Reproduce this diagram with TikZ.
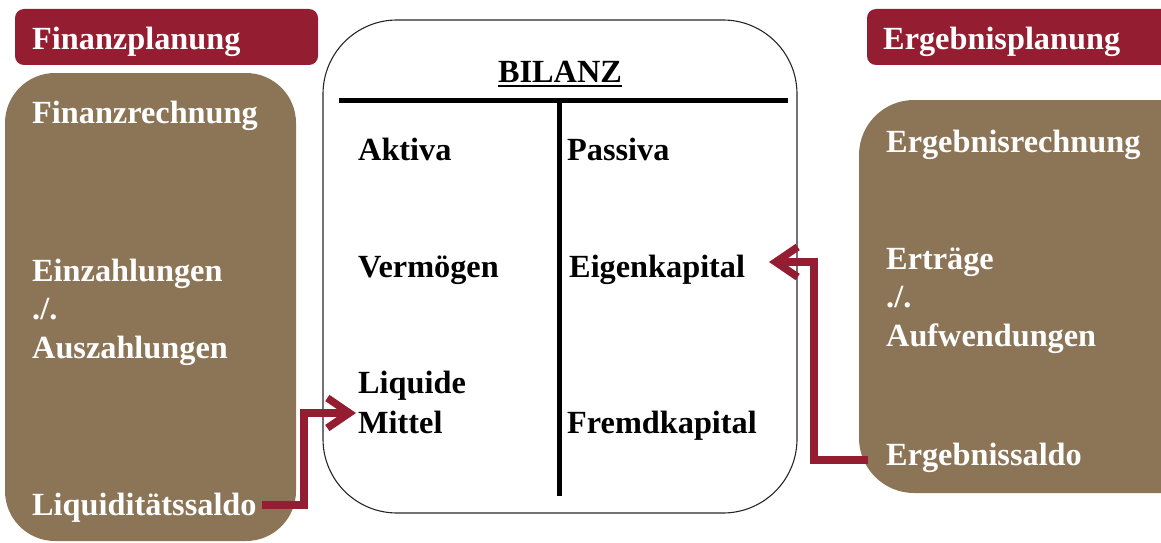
\documentclass[tikz,border=0pt]{standalone}
\usepackage{fontspec}
\setmainfont{Liberation Serif}
\usetikzlibrary{arrows.meta}
\definecolor{hdrred}{HTML}{951D32}
\definecolor{boxbrown}{HTML}{8C7557}
\tikzset{
  hdr/.style={fill=hdrred, draw=none, rounded corners=9pt},
  brownbox/.style={fill=boxbrown, draw=none},
  txt/.style={anchor=base west, inner sep=0pt, font=\fontsize{32.3}{38}\selectfont\bfseries},
  wtxt/.style={txt, text=white},
  tline/.style={line width=5pt, black},
  arr/.style={draw=hdrred, line width=7.5pt, -{Straight Barb[length=22pt,width=30pt]}},
}
\begin{document}
\begin{tikzpicture}[x=1pt,y=-1pt]
\useasboundingbox (0,0) rectangle (1161,543);
\clip (0,0) rectangle (1161,543);
% headers
\path[hdr] (15,9) rectangle (318,65);
\path[hdr] (867,9) rectangle (1185,65);
\node[wtxt] (hfin) at (32,49) {Finanzplanung};
\node[wtxt] (herg) at (883,49) {Ergebnisplanung};
% brown boxes
\path[brownbox, rounded corners=50pt] (5,73) rectangle (296,541);
\path[brownbox, rounded corners=55pt] (859,100) rectangle (1220,493);
% left texts
\node[wtxt] (frech) at (32,123) {Finanzrechnung};
\node[wtxt] (einz) at (32,281) {Einzahlungen};
\node[wtxt] (lsep) at (32,319) {./.};
\node[wtxt] (ausz) at (32,358) {Auszahlungen};
\node[wtxt] (liq) at (32,515) {Liquiditätssaldo};
% right texts
\node[wtxt] (erech) at (886,152) {Ergebnisrechnung};
\node[wtxt] (ertr) at (886,269) {Erträge};
\node[wtxt] (rsep) at (886,307) {./.};
\node[wtxt] (aufw) at (886,346) {Aufwendungen};
\node[wtxt] (esal) at (886,465) {Ergebnissaldo};
% center balance
\draw[line width=1.1pt, black!85, rounded corners=74pt] (323,20) rectangle (797,513);
\node[txt, anchor=base] (bil) at (560,82) {BILANZ};
\draw[line width=1.6pt] ([yshift=-4pt]bil.base west) -- ([yshift=-4pt]bil.base east);
\coordinate (hl) at (339,100);
\coordinate (hr) at (788,100);
\coordinate (vt) at (559,100);
\coordinate (vb) at (559,496);
\draw[tline] (hl) -- (hr);
\draw[tline] (vt) -- (vb);
\node[txt] (akt) at (358,160) {Aktiva};
\node[txt] (pas) at (567,160) {Passiva};
\node[txt] (verm) at (358,277) {Vermögen};
\node[txt] (eig) at (569,277) {Eigenkapital};
\node[txt] (liqu) at (358,393) {Liquide};
\node[txt] (mit) at (358,433) {Mittel};
\node[txt] (fremd) at (567,433) {Fremdkapital};
% arrows
\coordinate (ls) at (262,505);
\coordinate (lb) at (304,413);
\coordinate (lt) at (356,413);
\draw[arr] (ls) -| (lb) -- (lt);
\coordinate (rs) at (868,460);
\coordinate (rb) at (814,262);
\coordinate (rt) at (769,262);
\draw[arr] (rs) -| (rb) -- (rt);
\end{tikzpicture}
\end{document}
